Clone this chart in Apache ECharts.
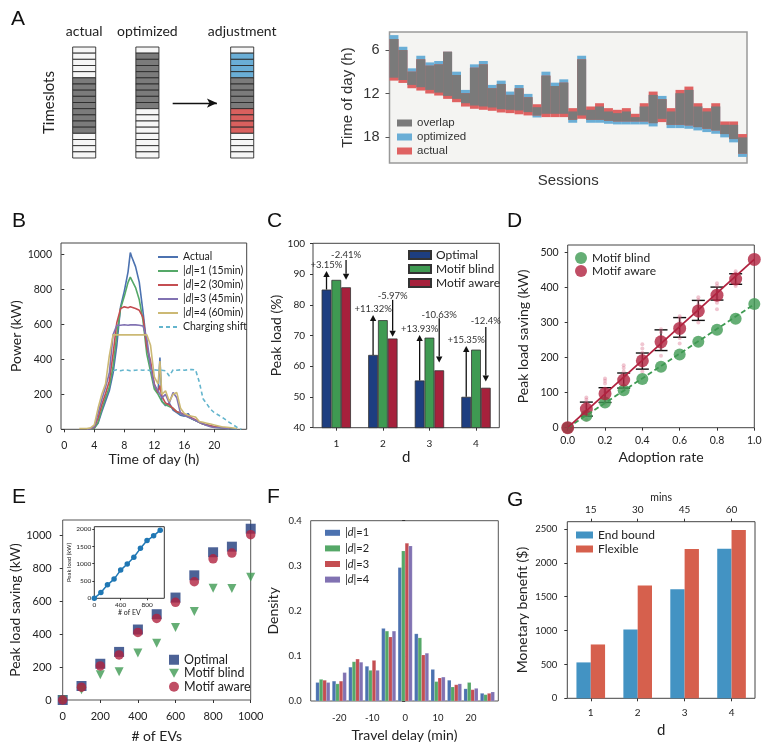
<!DOCTYPE html>
<html><head><meta charset="utf-8">
<script src="https://cdn.jsdelivr.net/npm/echarts@6/dist/echarts.min.js"></script>
<style>html,body{margin:0;padding:0;background:#fff}#c{width:764px;height:752px}</style>
</head><body><div id="c"></div>
<script>
// ================= DATA =================
// Panel A (schematic): state per timeslot: 0 empty, 1 overlap, 2 optimized only, 3 actual only
const schemeLabels = ['actual', 'optimized', 'adjustment'];
const schemeActual = [0,0,0,0,0,1,1,1,1,1,1,1,1,1,0,0,0,0];
const schemeOptimized = [0,1,1,1,1,1,1,1,1,1,0,0,0,0,0,0,0,0];
const schemeAdjustment = [0,2,2,2,2,1,1,1,1,1,3,3,3,3,0,0,0,0];

// Panel A (sessions): hours of day
const optStart = [3.93,5.54,8.52,6.78,7.70,7.51,6.23,8.98,11.50,7.97,7.51,10.81,10.22,11.73,10.82,12.05,13.89,8.98,10.50,10.04,14.48,6.78,14.25,13.79,14.48,14.71,14.48,15.26,13.79,12.19,12.33,14.48,11.96,11.50,13.79,14.48,13.79,16.32,16.32,18.06];
const optEnd   = [9.81,10.13,10.81,11.13,11.50,11.87,12.33,12.74,13.34,13.66,13.79,13.93,14.16,14.25,14.34,14.57,15.31,14.80,14.80,14.80,16.04,15.03,16.04,16.04,16.18,16.27,16.27,16.27,16.27,16.55,15.50,16.78,16.78,16.87,17.10,17.33,17.56,18.06,18.75,20.76];
const actStart = [4.47,6.00,8.98,7.28,8.15,7.97,6.23,9.44,11.96,8.43,7.97,11.27,10.68,12.19,11.28,12.51,13.48,9.53,10.96,10.50,14.02,7.28,13.79,13.34,14.02,14.25,14.02,14.80,13.34,11.73,12.79,14.02,11.50,11.04,13.34,14.02,13.34,15.86,15.86,17.60];
const actEnd   = [10.22,10.54,11.27,11.59,12.00,12.28,12.74,13.20,13.80,14.11,14.25,14.39,14.62,14.71,14.87,15.03,15.03,15.26,15.26,15.26,15.63,15.49,15.63,15.63,15.77,15.86,15.86,15.86,15.86,16.09,15.95,16.32,16.32,16.41,16.64,16.87,17.10,17.60,18.29,20.30];

// Panel B: power (kW) vs time of day (h)
const hoursB = [2,3,3.5,4,4.5,5,5.5,6,6.5,7,7.5,8,8.5,8.8,9,9.5,10,10.5,11,11.5,12,12.5,12.75,13,13.5,14,14.5,15,15.5,16,16.5,17,17.5,18,18.5,19,19.5,20,21,22,23,23.6];
const bActual = [null,null,3,8,35,100,160,220,320,480,700,790,900,1010,985,930,840,670,480,360,250,205,410,160,135,150,110,95,80,75,90,60,50,40,30,25,20,15,10,5,2,null];
const bD1 = [null,null,2,6,40,115,180,240,360,540,690,760,840,870,875,810,740,620,430,330,230,200,180,160,140,130,120,100,90,80,70,60,50,40,30,25,18,12,8,4,null,null];
const bD2 = [null,null,3,12,65,140,205,275,430,610,690,700,695,700,705,690,680,640,470,390,260,210,250,190,150,140,120,100,95,85,75,65,55,40,30,25,20,15,10,5,null,null];
const bD3 = [null,2,4,15,90,170,240,320,540,595,595,598,595,597,595,597,595,590,520,360,250,220,200,180,200,150,210,180,90,80,70,60,50,40,30,22,15,10,8,4,null,null];
const bD4 = [5,5,8,25,120,200,260,420,540,540,540,540,540,540,540,540,540,540,540,480,300,260,390,200,220,160,200,210,120,90,80,75,70,45,40,35,30,25,15,10,5,null];
const bShift = [null,null,null,null,null,null,null,null,335,340,335,340,338,335,340,338,340,338,340,335,340,338,340,338,335,305,340,338,340,338,340,342,340,270,175,145,115,95,70,40,12,0];
const bTicksX = [0,4,8,12,16,20];
const bTicksY = [0,200,400,600,800,1000];

// Panel C: peak load (%)
const cD = ['1','2','3','4'];
const cOptimal = [84.95,63.68,55.37,50.05];
const cBlind = [88.1,75.0,69.3,65.4];
const cAware = [85.69,69.03,58.67,53.0];
const cUpEnd = [91.0,76.7,70.2,66.6];
const cUpLabel = ['+3.15%','+11.32%','+13.93%','+15.35%'];
const cUpLabelAt = [92.9,78.6,72.1,68.4];
const cDownStart = [94.6,81.6,75.6,72.8];
const cDownEnd = [88.1,69.6,61.2,55.0];
const cDownLabel = ['-2.41%','-5.97%','-10.63%','-12.4%'];
const cDownLabelAt = [96.2,82.8,76.6,74.6];

// Panel D: peak load saving (kW) vs adoption rate
const dRate = [0,0.1,0.2,0.3,0.4,0.5,0.6,0.7,0.8,0.9,1.0];
const dBlind = [0,34,72,107,139,174,209,245,279,311,353];
const dAware = [0,53,97,136,191,245,283,333,378,424,480];
const dErrLow = [null,33,72,113,167,220,258,306,364,409,null];
const dErrHigh = [null,73,114,156,213,279,314,363,401,439,null];
const dTrials = [[],[22,35,46,60,72,80,86],[68,80,102,112,126,134,140],[108,122,142,160,170,178],[160,176,200,214,226,238],[205,226,240,258,272,281],[240,256,276,292,302,312,318],[300,318,338,352,364,372],[338,356,372,390,404,412],[404,414,428,440,446],[]];
const dBlindFit = [0,352];
const dAwareFit = [0,480];
const dFitX = [0,1];

// Panel E: peak load saving (kW) vs # of EVs
const eEVs = [0,100,200,300,400,500,600,700,800,900,1000];
const eOptimal = [0,85,220,292,428,521,622,757,897,931,1040];
const eBlind = [0,62,153,172,286,345,440,537,679,677,746];
const eAware = [0,78,207,274,410,495,593,718,857,892,1004];
const eInsetLoad = [0,165,390,555,815,990,1185,1445,1670,1805,1970];

// Panel F: density of travel delay (min)
const fBins = [-25,-20,-15,-10,-5,0,5,10,15,20,25];
const fD1 = [0.041,0.044,0.075,0.077,0.161,0.296,0.149,0.070,0.046,0.027,0.017];
const fD2 = [0.048,0.038,0.087,0.068,0.155,0.333,0.140,0.043,0.031,0.041,0.014];
const fD3 = [0.046,0.044,0.093,0.090,0.142,0.350,0.102,0.051,0.036,0.025,0.017];
const fD4 = [0.041,0.063,0.086,0.068,0.155,0.344,0.106,0.053,0.038,0.028,0.020];
const fTicks = [-20,-10,0,10,20];

// Panel G: monetary benefit ($)
const gD = ['1','2','3','4'];
const gMins = ['15','30','45','60'];
const gEndBound = [530,1015,1612,2210];
const gFlexible = [795,1665,2205,2485];

// ================= STYLE / LAYOUT =================
const FONT = 'Lato, "Liberation Sans", sans-serif';
const ARIAL = '"Liberation Sans", Arial, sans-serif';
const TXT = '#222';
const schemeColumnX = [0, 2, 5];
const CELL_W = 0.73;
const SCHEME_COLORS = ['#f6f6f6', '#7b7b7b', '#6aaed6', '#d9605e'];
const C_BAR_FRAC = 0.21;
const F_BAR = 1.07;
const SEA = {blue:'#4c72b0', green:'#55a868', red:'#c44e52', purple:'#8172b2', yellow:'#ccb974', cyan:'#64b5cd'};
const ICON_LINE = 'path://M0,0h20v2h-20z';
const ICON_DASH = 'path://M0,0h4v2h-4z M7,0h4v2h-4z M14,0h4v2h-4z';
const ICON_TRI_DOWN = 'path://M0,0L10,0L5,9Z';

function mergeDeep(a, b) {
  const o = Object.assign({}, a);
  for (const k in b) {
    if (b[k] && typeof b[k] === 'object' && !Array.isArray(b[k]) && a[k] && typeof a[k] === 'object' && !Array.isArray(a[k])) o[k] = mergeDeep(a[k], b[k]);
    else o[k] = b[k];
  }
  return o;
}
const plain = (v) => String(v);
const baseAxis = {
  splitLine: {show: false},
  axisLine: {show: false},
  axisTick: {show: true, length: 3, inside: false, lineStyle: {color: '#333', width: 1}},
  axisLabel: {color: TXT, fontFamily: FONT, fontSize: 10.5, margin: 8, formatter: plain},
  nameLocation: 'middle',
  nameTextStyle: {color: TXT, fontFamily: FONT, fontSize: 14}
};
const axis = (e) => mergeDeep(baseAxis, e);
const pairs = (xs, ys) => xs.map((x, i) => [x, ys[i]]).filter(p => p[1] !== null && p[1] !== undefined);
const strip = (n) => n.slice(n.indexOf(':') + 1);

// ================= RENDERERS =================
function cellItem(params, api) {
  const col = api.value(0), slot = api.value(1), state = api.value(2);
  const p0 = api.coord([col - CELL_W / 2, slot]);
  const p1 = api.coord([col + CELL_W / 2, slot + 1]);
  return {type: 'rect', shape: {x: p0[0], y: p0[1], width: p1[0] - p0[0], height: p1[1] - p0[1]},
    style: {fill: SCHEME_COLORS[state], stroke: '#2a2a2a', lineWidth: 0.9}};
}
function spanItem(params, api) {
  const i = api.value(0), s = api.value(1), e = api.value(2);
  const a = api.coord([i, s]), b = api.coord([i + 1, e]);
  return {type: 'rect', shape: {x: a[0], y: Math.min(a[1], b[1]), width: b[0] - a[0], height: Math.abs(b[1] - a[1])},
    style: {fill: api.visual('color')}};
}
const arrowTexts = [];
function arrowItem(params, api) {
  const g = api.value(0), v0 = api.value(1), v1 = api.value(2), side = api.value(3), lv = api.value(4);
  const c0 = api.coord([g, v0]), c1 = api.coord([g, v1]), cl = api.coord([g, lv]);
  const bw = api.size([1, 0])[0] * C_BAR_FRAC;
  const x = c0[0] + side * bw;
  const dir = c1[1] < c0[1] ? -1 : 1;
  const hl = 6, hw = 3.2;
  return {type: 'group', children: [
    {type: 'line', shape: {x1: x, y1: c0[1], x2: x, y2: c1[1] - dir * hl}, style: {stroke: '#111', lineWidth: 1.3}},
    {type: 'polygon', shape: {points: [[x, c1[1]], [x - hw, c1[1] - dir * hl], [x + hw, c1[1] - dir * hl]]}, style: {fill: '#111'}},
    {type: 'text', x: x, y: cl[1], style: {text: arrowTexts[params.dataIndex], fill: '#333', font: '9.5px Lato', align: 'center', verticalAlign: 'middle'}}
  ]};
}
function errItem(params, api) {
  const x = api.value(0), lo = api.value(1), hi = api.value(2);
  const a = api.coord([x, lo]), b = api.coord([x, hi]);
  const w = 6.5;
  const st = {stroke: '#111', lineWidth: 1.4};
  return {type: 'group', children: [
    {type: 'line', shape: {x1: a[0], y1: a[1], x2: b[0], y2: b[1]}, style: st},
    {type: 'line', shape: {x1: a[0] - w, y1: a[1], x2: a[0] + w, y2: a[1]}, style: st},
    {type: 'line', shape: {x1: b[0] - w, y1: b[1], x2: b[0] + w, y2: b[1]}, style: st}
  ]};
}
function histItem(k) {
  return function (params, api) {
    const c = api.value(0), v = api.value(1);
    const x0 = c - 2 * F_BAR + k * F_BAR;
    const a = api.coord([x0, v]), b = api.coord([x0 + F_BAR, 0]);
    return {type: 'rect', shape: {x: a[0], y: a[1], width: b[0] - a[0], height: b[1] - a[1]},
      style: {fill: api.visual('color'), stroke: 'rgba(255,255,255,0.5)', lineWidth: 0.3}};
  };
}

// ================= BUILD DATA =================
const schemeData = [];
[schemeActual, schemeOptimized, schemeAdjustment].forEach((col, c) => col.forEach((st, s) => schemeData.push([schemeColumnX[c], s, st])));
const NS = optStart.length;
const optData = optStart.map((s, i) => [i, s, optEnd[i]]);
const actData = actStart.map((s, i) => [i, s, actEnd[i]]);
const ovlData = optStart.map((s, i) => [i, Math.max(s, actStart[i]), Math.min(optEnd[i], actEnd[i])]);

const arrowData = [];
cD.forEach((d, g) => {
  arrowData.push([g, cOptimal[g], cUpEnd[g], -1, cUpLabelAt[g]]); arrowTexts.push(cUpLabel[g]);
  arrowData.push([g, cDownStart[g], cDownEnd[g], 1, cDownLabelAt[g]]); arrowTexts.push(cDownLabel[g]);
});
const trialData = [];
dTrials.forEach((arr, i) => arr.forEach(v => trialData.push([dRate[i], v])));
const errData = dRate.map((x, i) => [x, dErrLow[i], dErrHigh[i]]).filter(p => p[1] !== null);

const bNames = {
  'B:Actual': 'Actual',
  'B:d1': '|{i|d}|=1 (15min)', 'B:d2': '|{i|d}|=2 (30min)', 'B:d3': '|{i|d}|=3 (45min)', 'B:d4': '|{i|d}|=4 (60min)',
  'B:shift': 'Charging shift'
};
const fNames = {'F:1': '|{i|d}|=1', 'F:2': '|{i|d}|=2', 'F:3': '|{i|d}|=3', 'F:4': '|{i|d}|=4'};

function bLine(name, ys, color, dashed) {
  return {type: 'line', name, xAxisIndex: 2, yAxisIndex: 2, data: pairs(hoursB, ys), symbol: 'none', showSymbol: false,
    lineStyle: {color, width: 1.6, type: dashed ? [4, 3] : 'solid'}, itemStyle: {color}, animation: false};
}
function fSeries(name, vals, k, color) {
  return {type: 'custom', name, xAxisIndex: 7, yAxisIndex: 7, renderItem: histItem(k), itemStyle: {color},
    data: fBins.map((b, i) => [b, vals[i]])};
}
const legendText = (size, extra) => Object.assign({fontFamily: FONT, fontSize: size, color: '#222'}, extra || {});
const letter = (t, l, tp) => ({text: t, left: l, top: tp, padding: 0, textStyle: {fontFamily: ARIAL, fontSize: 21, fontWeight: 'normal', color: '#111'}});

const option = {
  animation: false,
  backgroundColor: '#fff',
  title: [letter('A', 11, 9), letter('B', 12, 211), letter('C', 267, 211), letter('D', 507, 211), letter('E', 12, 487), letter('F', 267, 487), letter('G', 507, 490)],
  grid: [
    {left: 68.4, top: 47, width: 189.6, height: 111, show: false, outerBoundsMode: 'none'},
    {left: 389.5, top: 32, width: 357.5, height: 131, show: true, backgroundColor: '#f4f4f2', borderColor: '#999', borderWidth: 1.5, outerBoundsMode: 'none'},
    {left: 61, top: 243, width: 185.7, height: 186.3, show: true, borderColor: '#444', borderWidth: 1, outerBoundsMode: 'none'},
    {left: 313, top: 243.3, width: 186.3, height: 184.4, show: true, borderColor: '#444', borderWidth: 1, outerBoundsMode: 'none'},
    {left: 567.7, top: 245, width: 186.6, height: 182.7, show: true, borderColor: '#444', borderWidth: 1, outerBoundsMode: 'none'},
    {left: 62.7, top: 520, width: 188, height: 180, show: true, borderColor: '#555', borderWidth: 1, outerBoundsMode: 'none'},
    {left: 94.3, top: 526.7, width: 70, height: 71.6, show: true, backgroundColor: '#fff', borderColor: '#333', borderWidth: 1, outerBoundsMode: 'none'},
    {left: 310.7, top: 520.7, width: 187.6, height: 180.3, show: true, borderColor: '#555', borderWidth: 1, outerBoundsMode: 'none'},
    {left: 567.3, top: 521.7, width: 187.7, height: 176.6, show: true, borderColor: '#444', borderWidth: 1, outerBoundsMode: 'none'}
  ],
  xAxis: [
    axis({gridIndex: 0, type: 'value', min: -0.5, max: 5.5, position: 'top', axisTick: {show: false},
      axisLabel: {customValues: schemeColumnX, formatter: v => schemeLabels[schemeColumnX.indexOf(v)], fontSize: 14, margin: 9}}),
    axis({gridIndex: 1, type: 'value', min: 0, max: NS, axisTick: {show: false}, axisLabel: {show: false},
      name: 'Sessions', nameGap: 10, nameTextStyle: {fontFamily: ARIAL, fontSize: 15, color: '#333'}}),
    axis({gridIndex: 2, type: 'value', min: -0.44, max: 24.32, axisTick: {customValues: bTicksX}, axisLabel: {customValues: bTicksX, margin: 11},
      name: 'Time of day (h)', nameGap: 22}),
    axis({gridIndex: 3, type: 'category', data: cD, axisTick: {alignWithLabel: true}, axisLabel: {fontSize: 10, margin: 11},
      name: 'd', nameGap: 22, nameTextStyle: {fontSize: 15}}),
    axis({gridIndex: 4, type: 'value', min: 0, max: 1, interval: 0.2, axisLabel: {formatter: v => v.toFixed(1), margin: 7},
      name: 'Adoption rate', nameGap: 23}),
    axis({gridIndex: 5, type: 'value', min: 0, max: 1000, interval: 200, axisLabel: {fontSize: 11, margin: 11},
      name: '# of EVs', nameGap: 29}),
    axis({gridIndex: 6, type: 'value', min: 0, max: 1062, axisTick: {customValues: [0, 400, 800], length: 2},
      axisLabel: {customValues: [0, 400, 800], fontSize: 6.5, margin: 3}, name: '# of EV', nameGap: 11, nameTextStyle: {fontSize: 7}}),
    axis({gridIndex: 7, type: 'value', min: -28.7, max: 28.3, axisTick: {show: false}, axisLabel: {customValues: fTicks, fontSize: 9.5, margin: 12},
      name: 'Travel delay (min)', nameGap: 27}),
    axis({gridIndex: 8, type: 'category', data: gD, axisTick: {alignWithLabel: true}, axisLabel: {fontSize: 10, margin: 9},
      name: 'd', nameGap: 24, nameTextStyle: {fontSize: 15}}),
    axis({gridIndex: 8, type: 'category', position: 'top', data: gMins, axisTick: {alignWithLabel: true}, axisLabel: {fontSize: 10, margin: 7},
      name: 'mins', nameGap: 19, nameTextStyle: {fontSize: 10.5}})
  ],
  yAxis: [
    axis({gridIndex: 0, type: 'value', min: 0, max: 18, inverse: true, axisTick: {show: false}, axisLabel: {show: false},
      name: 'Timeslots', nameGap: 12, nameTextStyle: {fontSize: 15}}),
    axis({gridIndex: 1, type: 'value', min: 3.5, max: 21.6, inverse: true, axisTick: {customValues: [6, 12, 18], length: 4, lineStyle: {color: '#555'}},
      axisLabel: {customValues: [6, 12, 18], fontFamily: ARIAL, fontSize: 14.5, color: '#333', margin: 10},
      name: 'Time of day (h)', nameGap: 34, nameTextStyle: {fontFamily: ARIAL, fontSize: 15, color: '#333'}}),
    axis({gridIndex: 2, type: 'value', min: 0, max: 1065, axisTick: {customValues: bTicksY}, axisLabel: {customValues: bTicksY, margin: 9},
      name: 'Power (kW)', nameGap: 36}),
    axis({gridIndex: 3, type: 'value', min: 40, max: 100, interval: 10, axisLabel: {fontSize: 10, margin: 8},
      name: 'Peak load (%)', nameGap: 26}),
    axis({gridIndex: 4, type: 'value', min: 0, max: 521, axisTick: {customValues: [0, 100, 200, 300, 400, 500]},
      axisLabel: {customValues: [0, 100, 200, 300, 400, 500], margin: 9}, name: 'Peak load saving (kW)', nameGap: 37}),
    axis({gridIndex: 5, type: 'value', min: 0, max: 1093, axisTick: {customValues: [0, 200, 400, 600, 800, 1000]},
      axisLabel: {customValues: [0, 200, 400, 600, 800, 1000], fontSize: 11, margin: 11}, name: 'Peak load saving (kW)', nameGap: 37}),
    axis({gridIndex: 6, type: 'value', min: 0, max: 2070, axisTick: {customValues: [0, 500, 1000, 1500, 2000], length: 2},
      axisLabel: {customValues: [0, 500, 1000, 1500, 2000], fontSize: 6.5, margin: 3}, name: 'Peak load (kW)', nameGap: 19, nameTextStyle: {fontSize: 6}}),
    axis({gridIndex: 7, type: 'value', min: 0, max: 0.4, interval: 0.1, axisLabel: {formatter: v => v.toFixed(1), fontSize: 9.5, margin: 9},
      name: 'Density', nameGap: 30}),
    axis({gridIndex: 8, type: 'value', min: 0, max: 2608, axisTick: {customValues: [0, 500, 1000, 1500, 2000, 2500]},
      axisLabel: {customValues: [0, 500, 1000, 1500, 2000, 2500], fontSize: 9.5, margin: 10}, name: 'Monetary benefit ($)', nameGap: 38})
  ],
  legend: [
    {data: ['A:overlap', 'A:optimized', 'A:actual'], left: 397, top: 116, orient: 'vertical', padding: 0, itemGap: 0, itemWidth: 15, itemHeight: 7,
      icon: 'rect', selectedMode: false, formatter: strip, textStyle: {fontFamily: ARIAL, fontSize: 11.5, color: '#333', lineHeight: 14}},
    {data: Object.keys(bNames).map(n => ({name: n, icon: n === 'B:shift' ? ICON_DASH : ICON_LINE})), left: 158, top: 250, orient: 'vertical', padding: 0, itemGap: 0, itemWidth: 20, itemHeight: 2,
      selectedMode: false, formatter: n => bNames[n],
      textStyle: legendText(10.5, {lineHeight: 14, rich: {i: {fontStyle: 'italic', fontFamily: FONT, fontSize: 10.5, color: '#222', lineHeight: 14}}})},
    {data: ['C:Optimal', 'C:Motif blind', 'C:Motif aware'], left: 408, top: 248, orient: 'vertical', padding: 0, itemGap: 0, itemWidth: 22, itemHeight: 8,
      icon: 'rect', selectedMode: false, formatter: strip, textStyle: legendText(12, {lineHeight: 14})},
    {data: ['D:Motif blind', 'D:Motif aware'], left: 575, top: 251.5, orient: 'vertical', padding: 0, itemGap: 0, itemWidth: 12, itemHeight: 12,
      icon: 'circle', selectedMode: false, formatter: strip, textStyle: legendText(12, {lineHeight: 13})},
    {data: [{name: 'E:Optimal', icon: 'rect'}, {name: 'E:Motif blind', icon: ICON_TRI_DOWN}, {name: 'E:Motif aware', icon: 'circle'}],
      left: 169, top: 653, orient: 'vertical', padding: 0, itemGap: 0, itemWidth: 10, itemHeight: 10,
      selectedMode: false, formatter: strip, textStyle: legendText(12.5, {lineHeight: 13.5})},
    {data: Object.keys(fNames), left: 325, top: 525, orient: 'vertical', padding: 0, itemGap: 0, itemWidth: 15, itemHeight: 6,
      icon: 'rect', selectedMode: false, formatter: n => fNames[n],
      textStyle: legendText(11, {lineHeight: 15.6, rich: {i: {fontStyle: 'italic', fontFamily: FONT, fontSize: 11, color: '#222', lineHeight: 15.6}}})},
    {data: ['G:End bound', 'G:Flexible'], left: 576, top: 528, orient: 'vertical', padding: 0, itemGap: 0, itemWidth: 17, itemHeight: 7,
      icon: 'rect', selectedMode: false, formatter: strip, textStyle: legendText(12, {lineHeight: 14})}
  ],
  series: [
    // A schematic
    {type: 'custom', name: 'schemeCells', xAxisIndex: 0, yAxisIndex: 0, renderItem: cellItem, data: schemeData, silent: true},
    {type: 'line', name: 'schemeArrow', xAxisIndex: 0, yAxisIndex: 0, data: [], symbol: 'none',
      markLine: {silent: true, symbol: ['none', 'arrow'], symbolSize: [7, 10], label: {show: false}, lineStyle: {color: '#111', width: 1.3, type: 'solid'},
        data: [[{coord: [2.8, 9.1]}, {coord: [4.2, 9.1]}]]}},
    // A sessions
    {type: 'custom', name: 'A:optimized', xAxisIndex: 1, yAxisIndex: 1, renderItem: spanItem, itemStyle: {color: '#6aaed6'}, data: optData},
    {type: 'custom', name: 'A:actual', xAxisIndex: 1, yAxisIndex: 1, renderItem: spanItem, itemStyle: {color: '#df6262'}, data: actData},
    {type: 'custom', name: 'A:overlap', xAxisIndex: 1, yAxisIndex: 1, renderItem: spanItem, itemStyle: {color: '#7a7a7a'}, data: ovlData},
    // B
    bLine('B:Actual', bActual, SEA.blue),
    bLine('B:d1', bD1, SEA.green),
    bLine('B:d2', bD2, SEA.red),
    bLine('B:d3', bD3, SEA.purple),
    bLine('B:d4', bD4, SEA.yellow),
    bLine('B:shift', bShift, SEA.cyan, true),
    // C
    {type: 'bar', name: 'C:Optimal', xAxisIndex: 3, yAxisIndex: 3, data: cOptimal, barWidth: '21%', barGap: '0%', itemStyle: {color: '#1d3e80', borderColor: '#333', borderWidth: 0.8}},
    {type: 'bar', name: 'C:Motif blind', xAxisIndex: 3, yAxisIndex: 3, data: cBlind, barWidth: '21%', barGap: '0%', itemStyle: {color: '#3f9a52', borderColor: '#333', borderWidth: 0.8}},
    {type: 'bar', name: 'C:Motif aware', xAxisIndex: 3, yAxisIndex: 3, data: cAware, barWidth: '21%', barGap: '0%', itemStyle: {color: '#a6213c', borderColor: '#333', borderWidth: 0.8}},
    {type: 'custom', name: 'C:arrows', xAxisIndex: 3, yAxisIndex: 3, renderItem: arrowItem, data: arrowData, z: 5},
    // D
    {type: 'scatter', name: 'D:trials', xAxisIndex: 4, yAxisIndex: 4, data: trialData, symbolSize: 4, itemStyle: {color: 'rgba(214,96,128,0.45)'}},
    {type: 'line', name: 'D:blindFit', xAxisIndex: 4, yAxisIndex: 4, data: pairs(dFitX, dBlindFit), symbol: 'none', lineStyle: {color: '#3f9a52', width: 1.8, type: [5, 3]}},
    {type: 'line', name: 'D:awareFit', xAxisIndex: 4, yAxisIndex: 4, data: pairs(dFitX, dAwareFit), symbol: 'none', lineStyle: {color: '#b0223f', width: 1.8}},
    {type: 'custom', name: 'D:err', xAxisIndex: 4, yAxisIndex: 4, renderItem: errItem, data: errData},
    {type: 'scatter', name: 'D:Motif blind', xAxisIndex: 4, yAxisIndex: 4, data: pairs(dRate, dBlind), symbolSize: 12, itemStyle: {color: '#3f9a52'}},
    {type: 'scatter', name: 'D:Motif aware', xAxisIndex: 4, yAxisIndex: 4, data: pairs(dRate, dAware), symbolSize: 13, itemStyle: {color: '#b0223f'}},
    // E
    {type: 'scatter', name: 'E:Optimal', xAxisIndex: 5, yAxisIndex: 5, data: pairs(eEVs, eOptimal), symbol: 'rect', symbolSize: 10, itemStyle: {color: '#1f3b7c'}},
    {type: 'scatter', name: 'E:Motif blind', xAxisIndex: 5, yAxisIndex: 5, data: pairs(eEVs, eBlind), symbol: 'triangle', symbolRotate: 180, symbolSize: 9, itemStyle: {color: '#3f9a52'}},
    {type: 'scatter', name: 'E:Motif aware', xAxisIndex: 5, yAxisIndex: 5, data: pairs(eEVs, eAware), symbol: 'circle', symbolSize: 9.5, itemStyle: {color: '#b0223f'}},
    {type: 'line', name: 'E:inset', xAxisIndex: 6, yAxisIndex: 6, data: pairs(eEVs, eInsetLoad), symbol: 'circle', symbolSize: 5.5, showSymbol: true,
      lineStyle: {color: '#1f77b4', width: 1.5}, itemStyle: {color: '#1f77b4'}},
    // F
    fSeries('F:1', fD1, 0, SEA.blue),
    fSeries('F:2', fD2, 1, SEA.green),
    fSeries('F:3', fD3, 2, SEA.red),
    fSeries('F:4', fD4, 3, SEA.purple),
    // G
    {type: 'bar', name: 'G:End bound', xAxisIndex: 8, yAxisIndex: 8, data: gEndBound, barWidth: '30.5%', barGap: '0%', itemStyle: {color: '#4393c3'}},
    {type: 'bar', name: 'G:Flexible', xAxisIndex: 8, yAxisIndex: 8, data: gFlexible, barWidth: '30.5%', barGap: '0%', itemStyle: {color: '#d6604d'}}
  ]
};
const chart = echarts.init(document.getElementById('c'), null, {renderer: 'canvas', width: 764, height: 752});
chart.setOption(option);
</script>
</body></html>
